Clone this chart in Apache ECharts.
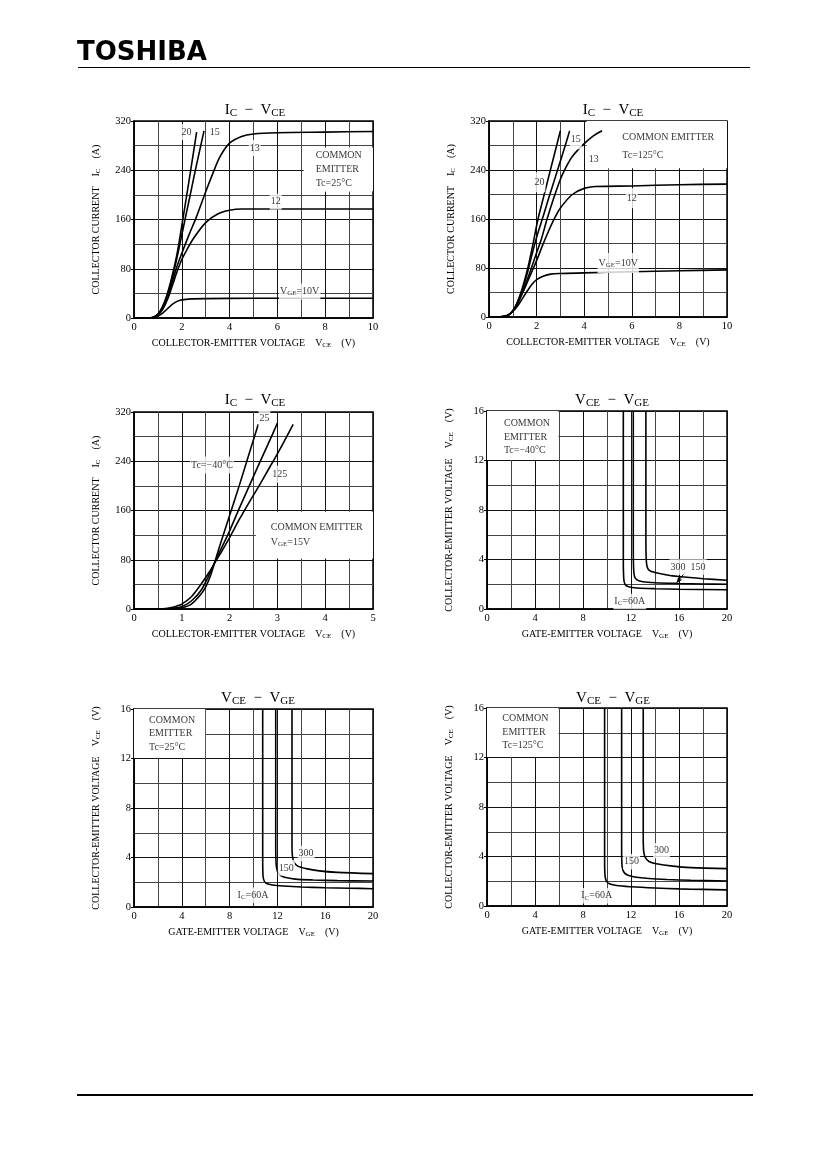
<!DOCTYPE html>
<html>
<head>
<meta charset="utf-8">
<script src="https://cdn.jsdelivr.net/npm/echarts@6/dist/echarts.min.js"></script>
<style>
  html, body { margin: 0; padding: 0; background: #fff; }
  #page { width: 826px; height: 1169px; }
</style>
</head>
<body>
<div id="page"></div>
<script>
/* IGBT characteristic curves page — 6 panels drawn on one ECharts instance */

// ---- panel 1: IC - VCE, Tc = 25°C (VCE, IC) ----
const ic25_vge10 = [[0,0],[0.6,0],[0.8,0.6],[1.0,3],[1.2,8],[1.4,15],[1.6,22],[1.8,27],[2.0,29.5],[2.4,31],[3,31.5],[5,32],[10,32]];
const ic25_vge12 = [[0,0],[0.6,0],[0.8,1],[1.0,5],[1.2,14],[1.4,30],[1.6,52],[1.8,75],[2.0,95],[2.2,110],[2.5,130],[3.0,155],[3.5,169],[4.0,175],[4.5,177],[10,177]];
const ic25_vge13 = [[0,0],[0.6,0],[0.8,1],[1.0,5],[1.2,15],[1.4,32],[1.6,58],[1.8,84],[2.0,105],[2.3,135],[2.6,163],[3.0,205],[3.3,235],[3.6,262],[4.0,284],[4.5,295],[5,299],[6,301],[8,302],[10,303]];
const ic25_vge15 = [[0,0],[0.6,0],[0.8,1],[1.0,6],[1.2,18],[1.4,38],[1.6,65],[1.8,98],[2.0,135],[2.2,172],[2.4,209],[2.6,246],[2.93,304]];
const ic25_vge20 = [[0,0],[0.6,0],[0.8,1],[1.0,6],[1.2,19],[1.4,40],[1.6,69],[1.8,104],[2.0,150],[2.2,198],[2.4,247],[2.62,302]];

// ---- panel 2: IC - VCE, Tc = 125°C ----
const ic125_vge10 = [[0,0],[0.5,0.5],[0.8,3],[1.0,9],[1.2,18],[1.4,30],[1.6,42],[1.8,53],[2.0,61],[2.3,67],[2.6,70],[3,71],[4,72],[6,74],[8,75.5],[10,77]];
const ic125_vge12 = [[0,0],[0.5,0.5],[0.8,3],[1.0,10],[1.2,22],[1.4,38],[1.6,56],[1.8,74],[2.0,92],[2.25,117],[2.5,140],[2.75,161],[3.0,178],[3.5,200],[4.0,210],[4.5,213],[6,214],[8,216],[10,217]];
const ic125_vge13 = [[0,0],[0.5,0.5],[0.8,3],[1.0,10],[1.2,23],[1.4,40],[1.6,60],[1.8,82],[2.0,105],[2.2,127],[2.44,160],[2.7,192],[3.0,225],[3.2,242],[3.5,262],[4.0,283],[4.4,296],[4.75,304]];
const ic125_vge15 = [[0,0],[0.5,0.5],[0.8,3],[1.0,10],[1.2,24],[1.4,44],[1.6,70],[1.8,101],[2.0,130],[2.24,160],[2.5,193],[2.8,230],[3.1,267],[3.39,304]];
const ic125_vge20 = [[0,0],[0.5,0.5],[0.8,3],[1.0,10],[1.2,25],[1.4,47],[1.6,75],[1.8,110],[2.06,160],[2.3,197],[2.6,243],[3.0,304]];

// ---- panel 3: IC - VCE, VGE = 15V, by case temperature ----
const icT_m40 = [[0,0],[0.6,0],[0.8,0.5],[1.0,2],[1.2,8],[1.4,24],[1.5,36],[1.6,54],[1.7,79],[1.8,104],[2.0,152],[2.2,200],[2.4,250],[2.6,300]];
const icT_25 = [[0,0],[0.6,0],[0.8,1],[1.0,4],[1.2,13],[1.4,30],[1.6,60],[1.7,78],[1.8,94],[2.0,127],[2.2,163],[2.4,198],[2.6,233],[2.8,267],[3.0,302]];
const icT_125 = [[0,0],[0.5,0],[0.7,1],[0.9,5],[1.0,8],[1.2,20],[1.4,40],[1.6,63],[1.7,76],[1.8,89],[2.0,116],[2.2,145],[2.4,172],[2.6,198],[2.8,225],[3.0,252],[3.33,300]];

// ---- panels 4-6: VCE - VGE (VGE, VCE) ----
const vceM40_60 = [[11.36,16],[11.36,4],[11.4,2.4],[11.5,2.0],[11.8,1.8],[12.5,1.7],[14,1.64],[16,1.6],[20,1.55]];
const vceM40_150 = [[12.19,16],[12.19,5],[12.22,3.2],[12.3,2.6],[12.5,2.35],[13,2.2],[14,2.12],[16,2.06],[18,2.02],[20,2.0]];
const vceM40_300 = [[13.24,16],[13.24,6],[13.27,4],[13.35,3.4],[13.55,3.1],[14,2.95],[15,2.75],[16,2.62],[18,2.45],[20,2.32]];

const vce25_60 = [[10.77,16],[10.77,4],[10.8,2.5],[10.9,2.1],[11.1,1.9],[11.6,1.78],[12.5,1.7],[14,1.62],[16,1.56],[18,1.52],[20,1.48]];
const vce25_150 = [[11.86,16],[11.86,5],[11.9,3.4],[12.0,2.9],[12.2,2.6],[12.6,2.4],[13.5,2.25],[15,2.18],[17,2.13],[20,2.1]];
const vce25_300 = [[13.22,16],[13.22,5],[13.26,4.1],[13.4,3.6],[13.7,3.3],[14.4,3.1],[15.5,2.92],[17,2.8],[20,2.7]];

const vce125_60 = [[9.8,16],[9.8,4],[9.83,2.5],[9.95,2.0],[10.2,1.8],[10.8,1.65],[12,1.55],[14,1.45],[16,1.38],[18,1.34],[20,1.3]];
const vce125_150 = [[11.22,16],[11.22,4.5],[11.26,3.2],[11.4,2.75],[11.7,2.5],[12.3,2.35],[13.5,2.22],[15,2.14],[17,2.08],[20,2.02]];
const vce125_300 = [[13.02,16],[13.02,5.5],[13.06,4.4],[13.2,3.9],[13.5,3.6],[14.1,3.42],[15.5,3.22],[17,3.1],[20,3.02]];

// axis ranges / ticks
const icAxis = { max: 320, interval: 80 };
const vceAxis10 = { max: 10, interval: 2 };
const vceAxis5 = { max: 5, interval: 1 };
const vgeAxis = { max: 20, interval: 4 };
const vceAxis16 = { max: 16, interval: 4 };

// curve labels, in data units: [x, y, text, align]
const notes1 = [[2.2,302,'20'],[3.38,302,'15'],[5.05,276,'13'],[5.93,189,'12'],[6.93,43,'V{s|GE}=10V'],
  [7.56,241,'COMMON\nEMITTER\nTc=25°C','left']];
const notes2 = [[3.65,290,'15'],[4.4,258,'13'],[2.12,220,'20'],[6.0,194,'12'],[5.43,88,'V{s|GE}=10V'],
  [5.56,279,'COMMON EMITTER\nTc=125°C','left']];
const notes3 = [[2.73,310,'25'],[1.63,234,'Tc=−40°C'],[3.05,219,'125'],
  [2.84,121,'COMMON EMITTER\nV{s|GE}=15V','left']];
const notes4 = [[16.75,3.39,'300  150'],[11.9,0.6,'I{s|C}=60A'],[1.33,13.9,'COMMON\nEMITTER\nTc=−40°C','left']];
const notes5 = [[14.4,4.32,'300'],[12.75,3.16,'150'],[9.96,0.95,'I{s|C}=60A'],[1.17,14.03,'COMMON\nEMITTER\nTc=25°C','left']];
const notes6 = [[14.55,4.47,'300'],[12.05,3.58,'150'],[9.14,0.83,'I{s|C}=60A'],[1.19,14.05,'COMMON\nEMITTER\nTc=125°C','left']];

// white boxes behind the condition legends (data units)
const box1 = [[7.1,206],[10,277]];
const box2 = [[4.1,243],[10,320]];
const box3 = [[2.55,82],[5,158]];
const boxV = [[0,12.05],[5.95,16]];

const SERIF = '"Liberation Serif", "DejaVu Serif", serif';
const ICVCE = '{n|I}{s|C}{n|  −  V}{s|CE}';
const VCEVGE = '{n|V}{s|CE}{n|  −  V}{s|GE}';
const X_VCE = 'COLLECTOR-EMITTER VOLTAGE    V{s|CE}    (V)';
const X_VGE = 'GATE-EMITTER VOLTAGE    V{s|GE}    (V)';
const Y_IC = 'COLLECTOR CURRENT    I{s|C}    (A)';
const Y_VCE = 'COLLECTOR-EMITTER VOLTAGE    V{s|CE}    (V)';

const panels = [
  { grid: { left: 134, top: 121, width: 239, height: 197 }, x: vceAxis10, y: icAxis, xName: X_VCE, yName: Y_IC,
    title: ICVCE, tx: 250, ty: 97, curves: [ic25_vge10, ic25_vge12, ic25_vge13, ic25_vge15, ic25_vge20], notes: notes1, box: box1, lh: 14 },
  { grid: { left: 489, top: 121, width: 238, height: 196 }, x: vceAxis10, y: icAxis, xName: X_VCE, yName: Y_IC,
    title: ICVCE, tx: 608, ty: 97, curves: [ic125_vge10, ic125_vge12, ic125_vge13, ic125_vge15, ic125_vge20], notes: notes2, box: box2, lh: 18 },
  { grid: { left: 134, top: 412, width: 239, height: 197 }, x: vceAxis5, y: icAxis, xName: X_VCE, yName: Y_IC,
    title: ICVCE, tx: 250, ty: 387, curves: [icT_m40, icT_25, icT_125], notes: notes3, box: box3, lh: 15 },
  { grid: { left: 487, top: 411, width: 240, height: 198 }, x: vgeAxis, y: vceAxis16, xName: X_VGE, yName: Y_VCE,
    title: VCEVGE, tx: 607, ty: 387, curves: [vceM40_60, vceM40_150, vceM40_300], notes: notes4, box: boxV, lh: 13.5,
    arrow: [[16.55,3.0],[15.8,2.12]] },
  { grid: { left: 134, top: 709, width: 239, height: 198 }, x: vgeAxis, y: vceAxis16, xName: X_VGE, yName: Y_VCE,
    title: VCEVGE, tx: 253, ty: 685, curves: [vce25_60, vce25_150, vce25_300], notes: notes5, box: boxV, lh: 13.5 },
  { grid: { left: 487, top: 708, width: 240, height: 198 }, x: vgeAxis, y: vceAxis16, xName: X_VGE, yName: Y_VCE,
    title: VCEVGE, tx: 608, ty: 685, curves: [vce125_60, vce125_150, vce125_300], notes: notes6, box: boxV, lh: 13.5 },
];

function subRich(size, drop) {
  return {
    n: { fontFamily: SERIF, fontSize: size, color: '#000' },
    s: { fontFamily: SERIF, fontSize: Math.round(size * 0.72), color: '#000', padding: [drop, 0, 0, 0] },
  };
}

const chart = echarts.init(document.getElementById('page'), null, { renderer: 'canvas' });

const series = [];
panels.forEach((p, i) => {
  // white legend backing
  series.push({
    type: 'line', xAxisIndex: i, yAxisIndex: i, data: [], silent: true,
    markArea: { silent: true, itemStyle: { color: '#fff', opacity: 1 },
      data: [[{ coord: p.box[0] }, { coord: p.box[1] }]] },
  });
  p.curves.forEach((c) => {
    series.push({
      type: 'line', xAxisIndex: i, yAxisIndex: i, data: c, showSymbol: false, smooth: 0.3,
      clip: true, silent: true, lineStyle: { color: '#000', width: 1.6 },
    });
  });
  series.push({
    type: 'scatter', xAxisIndex: i, yAxisIndex: i, symbolSize: 0, silent: true, z: 5,
    data: p.notes.map((n) => ({
      value: [n[0], n[1]],
      label: { formatter: n[2], align: n[3] || 'center' },
    })),
    label: {
      show: true, position: 'inside', color: '#000', fontFamily: SERIF, fontSize: 10,
      lineHeight: p.lh, backgroundColor: '#fff', padding: [1, 1],
      rich: subRich(10, 4),
    },
  });
  if (p.arrow) {
    series.push({
      type: 'line', xAxisIndex: i, yAxisIndex: i, data: [], silent: true,
      markLine: { silent: true, symbol: ['none', 'arrow'], symbolSize: [4, 6],
        lineStyle: { color: '#000', width: 1, type: 'solid' }, label: { show: false },
        data: [[{ coord: p.arrow[0] }, { coord: p.arrow[1] }]] },
    });
  }
});

chart.setOption({
  animation: false,
  backgroundColor: '#fff',
  title: panels.map((p) => ({
    text: p.title, left: p.tx, top: p.ty, textAlign: 'center',
    textStyle: { fontFamily: SERIF, fontSize: 15, fontWeight: 'normal', color: '#000', rich: subRich(15, 6) },
  })),
  grid: panels.map((p) => ({ ...p.grid, show: true, borderColor: '#000', borderWidth: 1.5 })),
  xAxis: panels.map((p, i) => ({
    type: 'value', gridIndex: i, min: 0, max: p.x.max, interval: p.x.interval,
    name: p.xName, nameLocation: 'middle', nameGap: 20,
    nameTextStyle: { fontFamily: SERIF, fontSize: 10, color: '#000', rich: subRich(10, 4) },
    axisLine: { show: true, lineStyle: { color: '#000', width: 1.5 } },
    axisTick: { show: false },
    axisLabel: { fontFamily: SERIF, fontSize: 10.5, color: '#000', margin: 4 },
    splitLine: { show: true, lineStyle: { color: '#111', width: 1 } },
    minorTick: { show: false, splitNumber: 2 },
    minorSplitLine: { show: true, lineStyle: { color: '#444', width: 1 } },
  })),
  yAxis: panels.map((p, i) => ({
    type: 'value', gridIndex: i, min: 0, max: p.y.max, interval: p.y.interval,
    name: p.yName, nameLocation: 'middle', nameGap: 32,
    nameTextStyle: { fontFamily: SERIF, fontSize: 10, color: '#000', rich: subRich(10, 4) },
    axisLine: { show: true, lineStyle: { color: '#000', width: 1.5 } },
    axisTick: { show: true, length: 3, lineStyle: { color: '#000' } },
    axisLabel: { fontFamily: SERIF, fontSize: 10.5, color: '#000', margin: 3 },
    splitLine: { show: true, lineStyle: { color: '#111', width: 1 } },
    minorTick: { show: false, splitNumber: 2 },
    minorSplitLine: { show: true, lineStyle: { color: '#444', width: 1 } },
  })),
  series: series,
  graphic: [
    { type: 'text', left: 77, top: 40, style: { text: 'TOSHIBA', font: 'bold 26px "DejaVu Sans"', fill: '#000' } },
    { type: 'line', shape: { x1: 78, y1: 67.5, x2: 750, y2: 67.5 }, style: { stroke: '#000', lineWidth: 1 } },
    { type: 'line', shape: { x1: 77, y1: 1095, x2: 753, y2: 1095 }, style: { stroke: '#000', lineWidth: 2 } },
  ],
});
</script>
</body>
</html>
